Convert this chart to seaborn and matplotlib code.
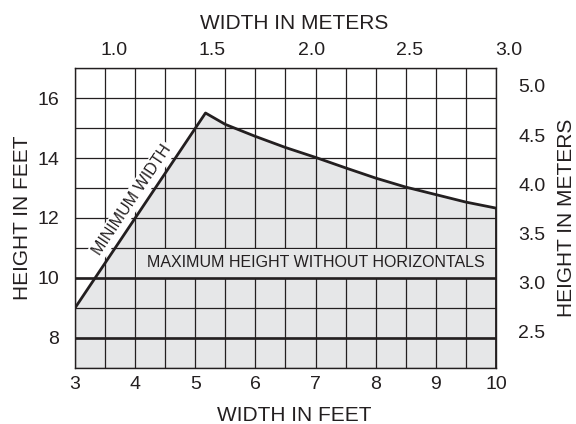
import numpy as np
import seaborn as sns
import matplotlib.pyplot as plt
import matplotlib.transforms as mtransforms
from matplotlib.patches import Rectangle

# boundary of the shaded region (feet)
bound_x = [3.0, 5.17, 5.5, 6.0, 6.5, 7.0, 7.5, 8.0, 8.5, 9.0, 9.5, 10.0]
bound_y = [9.0, 15.5, 15.12, 14.72, 14.35, 14.02, 13.67, 13.33, 13.03, 12.78, 12.53, 12.33]

# heavy horizontals
heavy_levels = [8, 10]

x_ticks_ft = [3, 4, 5, 6, 7, 8, 9, 10]
y_ticks_ft = [8, 10, 12, 14, 16]
x_ticks_m = [1.0, 1.5, 2.0, 2.5, 3.0]
y_ticks_m = [2.5, 3.0, 3.5, 4.0, 4.5, 5.0]

FT = 0.3048
ink = "#231f20"
shade = "#e6e7e8"

sns.set_theme(style="white")
plt.rcParams["font.family"] = ["Liberation Sans", "DejaVu Sans"]
plt.rcParams["text.color"] = ink
plt.rcParams["axes.labelcolor"] = ink
plt.rcParams["xtick.color"] = ink
plt.rcParams["ytick.color"] = ink

fig = plt.figure(figsize=(5.76, 4.24), dpi=100)
ax = fig.add_axes([0.1302, 0.1321, 0.7309, 0.7075])

ax.fill_between(bound_x, 7, bound_y, color=shade, lw=0, zorder=1)
sns.lineplot(x=bound_x, y=bound_y, sort=False, color=ink, lw=2.0, ax=ax, zorder=5)
ax.vlines(bound_x[-1], 7, bound_y[-1], color=ink, lw=2.0, zorder=5)
for lv in heavy_levels:
    ax.axhline(lv, color=ink, lw=1.9, zorder=4)

ax.set_xlim(3, 10)
ax.set_ylim(7, 17)
ax.set_xticks(x_ticks_ft)
ax.set_xticks(np.arange(3.5, 10, 1.0), minor=True)
ax.set_yticks(y_ticks_ft)
ax.set_yticks([7, 9, 11, 13, 15, 17], minor=True)
ax.set_axisbelow(False)
ax.grid(which="both", color=ink, lw=0.9)
ax.tick_params(which="both", length=0, labelsize=14)
ax.tick_params(axis="x", pad=6)
ax.tick_params(axis="y", pad=11.5)
for s in ax.spines.values():
    s.set_color(ink)
    s.set_linewidth(1.0)
    s.set_zorder(6)

ax.set_xlabel("WIDTH IN FEET", fontsize=15, labelpad=9)
ax.xaxis.label.set_x(0.52)
ax.set_ylabel("HEIGHT IN FEET", fontsize=15, labelpad=4)

# label band
ax.add_patch(Rectangle((4.02, 10.0), 5.98, 0.97, facecolor=shade, edgecolor="none", zorder=3))
ax.text(7.0, 10.5, "MAXIMUM HEIGHT WITHOUT HORIZONTALS", ha="center", va="center",
        fontsize=11.5, zorder=4)
ax.text(3.95, 12.6, "MINIMUM WIDTH", ha="center", va="center", rotation=56.3,
        rotation_mode="anchor", fontsize=11.5, zorder=4,
        bbox=dict(facecolor="white", edgecolor="none", pad=1.5))

top = ax.secondary_xaxis("top", functions=(lambda f: f * FT, lambda m: m / FT))
top.set_xticks(x_ticks_m)
top.set_xticklabels([f"{v:.1f}" for v in x_ticks_m])
top.tick_params(length=0, labelsize=14, pad=6.5)
top.set_xlabel("WIDTH IN METERS", fontsize=15, labelpad=9.5)
top.xaxis.label.set_x(0.52)
top.spines["top"].set_visible(False)
# printed metre labels sit a little right of their true positions
shift = mtransforms.ScaledTranslation(0.22, 0, fig.dpi_scale_trans)
for lab in top.xaxis.get_majorticklabels():
    lab.set_transform(lab.get_transform() + shift)

right = ax.secondary_yaxis("right", functions=(lambda f: f * FT, lambda m: m / FT))
right.set_yticks(y_ticks_m)
right.set_yticklabels([f"{v:.1f}" for v in y_ticks_m])
right.tick_params(length=0, labelsize=14, pad=16)
right.set_ylabel("HEIGHT IN METERS", fontsize=15, labelpad=8)
right.spines["right"].set_visible(False)

fig.savefig("out.png", dpi=100)
